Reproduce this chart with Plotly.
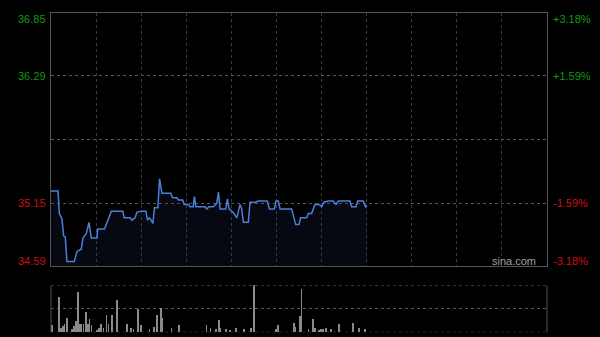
import plotly.graph_objects as go

# ---- data (minutes since open, HK session 330 min) ----
price_t = [0, 4.7, 5.5, 7.3, 8.4, 9.5, 10.6, 15.5, 17.3, 18.3, 20.1, 21.3, 23.5, 25.3, 26.1, 26.8,
           30.6, 31.0, 35.6, 37.6, 40.1, 47.8, 48.7, 52.7, 53.8, 56.0, 57.1, 59.8, 63.1, 64.2, 65.5,
           66.6, 67.8, 68.8, 71.1, 72.2, 73.8, 79.7, 80.8, 83.7, 84.8, 87.7, 88.6, 91.4, 92.6, 94.6,
           95.4, 96.4, 102.5, 103.7, 105.2, 108.0, 110.3, 111.4, 112.5, 116.3, 117.4, 118.5, 120.3,
           121.8, 123.6, 125.8, 126.9, 128.0, 131.3, 132.4, 136.4, 137.6, 143.9, 145.3, 148.6, 149.7,
           151.2, 152.4, 160.1, 161.2, 162.8, 165.0, 166.1, 170.1, 171.2, 173.4, 174.5, 175.6, 178.5,
           180.1, 181.6, 184.5, 187.8, 189.6, 191.1, 198.9, 200.0, 202.9, 204.0, 207.7, 209.3, 210.2]
price_v = [35.26, 35.26, 35.06, 35.01, 34.86, 34.85, 34.63, 34.63, 34.72, 34.73, 34.74, 34.84, 34.88,
           34.98, 34.88, 34.84, 34.84, 34.92, 34.92, 34.99, 35.08, 35.08, 35.02, 35.02, 35.00, 35.02,
           35.07, 35.08, 35.08, 35.00, 35.02, 35.00, 34.97, 35.11, 35.11, 35.37, 35.24, 35.24, 35.20,
           35.20, 35.18, 35.18, 35.14, 35.14, 35.12, 35.12, 35.21, 35.12, 35.12, 35.10, 35.12, 35.12,
           35.15, 35.25, 35.10, 35.10, 35.19, 35.10, 35.08, 35.06, 35.02, 35.14, 35.10, 34.98, 34.98,
           35.16, 35.16, 35.17, 35.17, 35.10, 35.10, 35.17, 35.17, 35.10, 35.10, 35.05, 34.96, 34.96,
           35.02, 35.02, 35.06, 35.06, 35.10, 35.14, 35.14, 35.12, 35.16, 35.17, 35.17, 35.14, 35.17,
           35.17, 35.12, 35.12, 35.17, 35.17, 35.12, 35.13]

vol_t = [0.7, 5.5, 6.8, 8.0, 9.0, 10.4, 14.0, 15.5, 16.8, 17.9, 19.0, 20.1, 21.7, 23.5, 24.6, 25.6,
         27.0, 30.6, 32.1, 33.2, 35.0, 36.9, 38.3, 40.5, 44.1, 50.5, 53.2, 54.9, 58.0, 59.8, 65.5,
         68.6, 70.4, 73.0, 74.0, 80.1, 85.1, 103.4, 106.1, 110.0, 111.6, 112.6, 116.3, 118.9, 123.3,
         128.2, 132.9, 134.9, 149.7, 150.8, 161.5, 162.6, 165.9, 166.6, 171.4, 174.5, 175.8, 178.5,
         179.8, 181.1, 182.9, 186.1, 191.4, 200.7, 204.7, 209.1]
vol_v = [14, 74, 9, 13, 18, 30, 6, 13, 23, 86, 18, 18, 18, 43, 18, 27,
         14, 4, 9, 18, 9, 36, 18, 36, 68, 18, 9, 6, 50, 14, 6,
         11, 36, 52, 30, 8, 14, 14, 8, 6, 26, 8, 6, 4, 8,
         6, 8, 99, 6, 14, 20, 11, 33, 92, 6, 27, 8, 4,
         6, 6, 8, 6, 18, 20, 8, 6]

left_ticks = [36.85, 36.29, 35.15, 34.59]
left_labels = ["36.85", "36.29", "35.15", "34.59"]
right_labels = ["+3.18%", "+1.59%", "-1.59%", "-3.18%"]
prev_close = 35.72
grid_minutes = [30, 60, 90, 120, 150, 180, 210, 240, 270, 300]

GREEN = "#119911"
RED = "#cc1111"
X0, X1 = 51 / 600, 547 / 600
PY0, PY1 = 1 - 266 / 337, 1 - 13 / 337
VY0, VY1 = 1 - 332.3 / 337, 1 - 285.3 / 337

fig = go.Figure()
fig.add_trace(go.Scatter(x=price_t, y=price_v, mode="lines",
                         line=dict(color="#4a80d9", width=1.5),
                         fill="tozeroy", fillcolor="rgba(45,70,130,0.13)",
                         xaxis="x", yaxis="y", hoverinfo="skip"))
fig.add_trace(go.Bar(x=vol_t, y=vol_v, width=0.5, marker=dict(color="#8a8a8a", line=dict(width=0)),
                     xaxis="x2", yaxis="y2", hoverinfo="skip"))

fig.update_layout(
    width=600, height=337, margin=dict(l=0, r=0, t=0, b=0),
    paper_bgcolor="#000000", plot_bgcolor="#000000", showlegend=False,
    font=dict(family="Arial, Liberation Sans, sans-serif", size=11),
    xaxis=dict(domain=[X0, X1], range=[0, 330], tickvals=grid_minutes, showticklabels=False,
               showgrid=True, gridcolor="#3a3a3a", griddash="dot", gridwidth=1, zeroline=False,
               showline=True, mirror=True, linecolor="#555555", linewidth=1, anchor="y", fixedrange=True),
    yaxis=dict(domain=[PY0, PY1], range=[left_ticks[-1], left_ticks[0]],
               tickvals=[left_ticks[1], prev_close, left_ticks[2]], showticklabels=False,
               showgrid=True, gridcolor="#555555", griddash="dot", gridwidth=1, zeroline=False,
               showline=True, mirror=True, linecolor="#555555", linewidth=1, anchor="x", fixedrange=True),
    xaxis2=dict(domain=[X0, X1], range=[0, 330], showticklabels=False, showgrid=False, zeroline=False,
                showline=False, anchor="y2", fixedrange=True),
    yaxis2=dict(domain=[VY0, VY1], range=[0, 100], tickvals=[50], showticklabels=False,
                showgrid=True, gridcolor="#555555", griddash="dot", zeroline=False,
                showline=False, anchor="x2", fixedrange=True),
    bargap=0,
)

# volume panel frame
for yv in [0, 100]:
    fig.add_shape(type="line", xref="x2 domain", yref="y2", x0=0, x1=1, y0=yv, y1=yv,
                  line=dict(color="#555555", width=1, dash="dot"))
for xv in [0, 1]:
    fig.add_shape(type="line", xref="x2 domain", yref="y2", x0=xv, x1=xv, y0=0, y1=100,
                  line=dict(color="#555555", width=1))

# price labels
anchors = ["top", "middle", "middle", "bottom"]
shifts = [2, 0, 0, -3]
colors = [GREEN, GREEN, RED, RED]
for v, lt, rt, ya, sh, c in zip(left_ticks, left_labels, right_labels, anchors, shifts, colors):
    fig.add_annotation(xref="paper", yref="y", x=X0 - 3 / 600, y=v, text=lt, showarrow=False,
                       xanchor="right", yanchor=ya, yshift=sh, font=dict(color=c, size=11))
    fig.add_annotation(xref="paper", yref="y", x=X1 + 4 / 600, y=v, text=rt, showarrow=False,
                       xanchor="left", yanchor=ya, yshift=sh, font=dict(color=c, size=11))

fig.add_annotation(xref="paper", yref="paper", x=538 / 600, y=1 - 261 / 337, text="sina.com",
                   showarrow=False, xanchor="right", yanchor="middle",
                   font=dict(color="#a0a0a0", size=11))

fig.write_html("out.html")
